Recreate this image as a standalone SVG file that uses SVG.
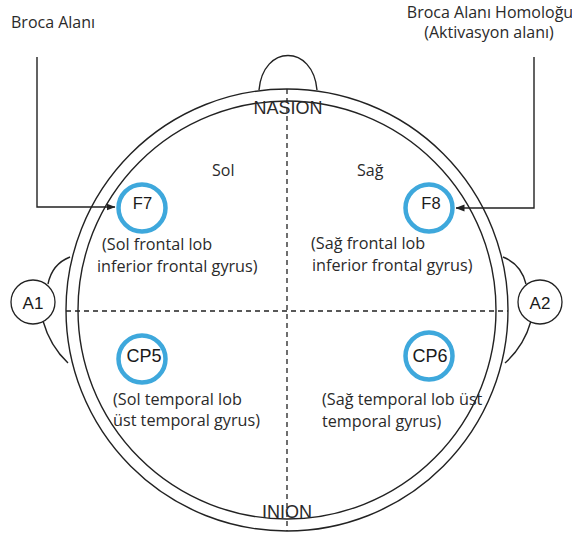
<svg xmlns="http://www.w3.org/2000/svg" width="572" height="541" viewBox="0 0 572 541">
<defs>
<style>
.ln{fill:none;stroke:#222;stroke-width:1.4}
.dash{fill:none;stroke:#222;stroke-width:1.3;stroke-dasharray:5 4}
.ring{fill:#fff;stroke:#3ea8dc;stroke-width:4.5}
.ear{fill:#fff;stroke:#222;stroke-width:1.3}
.lbl{font-family:"Open Sans","Liberation Sans",sans-serif;font-size:16.2px;fill:#2a2a2a}
.hd{font-family:"Open Sans","Liberation Sans",sans-serif;font-size:16px;fill:#2a2a2a}
.nd{font-family:"Liberation Sans",Arial,sans-serif;fill:#1a1a1a;text-anchor:middle}
.lm{font-family:"Liberation Sans",Arial,sans-serif;font-size:18px;fill:#2a2a2a;text-anchor:middle}
</style>
<marker id="arr" markerWidth="9" markerHeight="8" refX="8.5" refY="4" orient="auto" markerUnits="userSpaceOnUse">
<path d="M0,0.5 L9,4 L0,7.5 Z" fill="#222"/>
</marker>
</defs>
<rect width="572" height="541" fill="#fff"/>
<g id="head">
<path class="ln" d="M259,90 C263,44 313,44 317,90"/>
<path class="ln" d="M70,257 Q52,264 48,284"/>
<path class="ln" d="M43,321 Q50,346 68,363"/>
<path class="ln" d="M503,257 Q521,264 526,284"/>
<path class="ln" d="M531,321 Q524,346 505,363"/>
<circle class="ln" cx="287" cy="310" r="221"/>
<circle class="ln" cx="287" cy="310" r="209"/>
<line class="dash" x1="287" y1="89" x2="287" y2="531"/>
<line class="dash" x1="66" y1="311" x2="508" y2="311"/>
<text class="lm" x="288" y="114">NASION</text>
<text class="lm" x="287" y="518">INION</text>
<text class="hd" x="212" y="176">Sol</text>
<text class="hd" x="357" y="176">Sağ</text>
</g>
<g id="A1">
<circle class="ear" cx="33" cy="302" r="22"/>
<text class="nd" x="33" y="309" font-size="17">A1</text>
</g>
<g id="A2">
<circle class="ear" cx="540" cy="302" r="22"/>
<text class="nd" x="540" y="309" font-size="17">A2</text>
</g>
<g id="broca">
<text class="hd" x="11" y="28">Broca Alanı</text>
</g>
<g id="broca-homolog">
<text class="hd" x="490" y="18" text-anchor="middle">Broca Alanı Homoloğu</text>
<text class="hd" x="489" y="38" text-anchor="middle">(Aktivasyon alanı)</text>
</g>
<g id="connectors">
<path class="ln" d="M37,57 V207 H115" marker-end="url(#arr)"/>
<path class="ln" d="M534,57 V208 H456" marker-end="url(#arr)"/>
</g>
<g id="F7">
<circle class="ring" cx="142" cy="208" r="23.5"/>
<text class="nd" x="142.5" y="209" font-size="16.5">F7</text>
<text class="lbl" x="102" y="250">(Sol frontal lob</text>
<text class="lbl" x="97" y="272">inferior frontal gyrus)</text>
</g>
<g id="F8">
<circle class="ring" cx="429" cy="208" r="23.5"/>
<text class="nd" x="431" y="209" font-size="16.5">F8</text>
<text class="lbl" x="311" y="249">(Sağ frontal lob</text>
<text class="lbl" x="312" y="271">inferior frontal gyrus)</text>
</g>
<g id="CP5">
<circle class="ring" cx="142" cy="359" r="23.5"/>
<text class="nd" x="144" y="362" font-size="18">CP5</text>
<text class="lbl" x="113" y="405">(Sol temporal lob</text>
<text class="lbl" x="113" y="426">üst temporal gyrus)</text>
</g>
<g id="CP6">
<circle class="ring" cx="429" cy="356" r="23.5"/>
<text class="nd" x="430" y="362" font-size="18">CP6</text>
<text class="lbl" x="322" y="405">(Sağ temporal lob üst</text>
<text class="lbl" x="322" y="427">temporal gyrus)</text>
</g>
</svg>
